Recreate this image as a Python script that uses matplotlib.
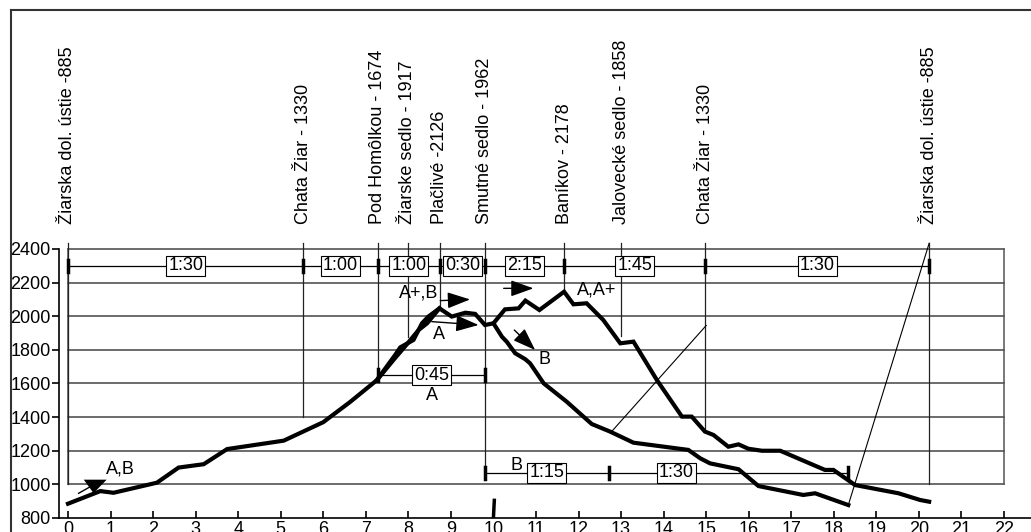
import matplotlib
matplotlib.use('Agg')
import matplotlib.pyplot as plt
from matplotlib.lines import Line2D

plt.rcParams['font.family'] = ['Liberation Sans', 'DejaVu Sans']

# waypoints along the route (km, name, lower end of the marker line)
stop_x = [0, 5.53, 7.28, 7.98, 8.74, 9.8, 11.66, 13.0, 14.98, 20.24]
stop_names = ['Žiarska dol. ústie -885', 'Chata Žiar - 1330', 'Pod Homôlkou - 1674',
              'Žiarske sedlo - 1917', 'Plačlivé -2126', 'Smutné sedlo - 1962',
              'Baníkov - 2178', 'Jalovecké sedlo - 1858', 'Chata Žiar - 1330',
              'Žiarska dol. ústie -885']
stop_low = [1000, 1400, 1630, 1875, 2047, 1030, 2146, 1885, 1310, 1000]

# main profile (A, A+)
main_x = [0, 0.76, 1.07, 2.09, 2.6, 3.19, 3.74, 5.07, 6.0, 6.63, 7.26, 7.65, 7.97,
          8.24, 8.44, 8.73, 9.02, 9.34, 9.57, 9.8, 10.0, 10.27, 10.59, 10.75, 11.08,
          11.66, 11.88, 12.19, 12.58, 12.98, 13.29, 13.84, 14.43, 14.66, 14.97, 15.17,
          15.52, 15.76, 15.99, 16.31, 16.74, 17.79, 17.99, 18.5, 19.52, 20.03, 20.24]
main_y = [885, 960, 950, 1010, 1100, 1120, 1210, 1260, 1370, 1490, 1620, 1740, 1835,
          1918, 1958, 2047, 1998, 2021, 2014, 1948, 1958, 2041, 2047, 2093, 2037,
          2146, 2071, 2077, 1978, 1839, 1849, 1621, 1403, 1403, 1314, 1294,
          1224, 1238, 1212, 1200, 1200, 1086, 1086, 996, 947, 907, 897]

# second climb variant between Pod Homôlkou and Plačlivé
alt_x = [7.26, 7.69, 7.81, 8.12, 8.32, 8.47, 8.73]
alt_y = [1621, 1770, 1815, 1859, 1958, 1998, 2047]

# descent B from Smutné sedlo
b_x = [10.0, 10.2, 10.31, 10.51, 10.75, 10.86, 11.18, 11.72, 12.31, 12.74, 13.29,
       14.58, 14.86, 15.09, 15.76, 16.23, 17.28, 17.56, 18.34]
b_y = [1958, 1878, 1849, 1780, 1744, 1720, 1601, 1492, 1359, 1314, 1248,
       1205, 1155, 1125, 1090, 990, 937, 947, 877]

# thin leader lines
lead1 = ([12.78, 15.0], [1315, 1945])
lead2 = ([18.34, 20.24], [877, 2434])

# start arrow (A,B): tail and skewed head
start_tail = ([0.25, 0.55], [947, 990])
start_head_x = [0.37, 0.91, 0.60]
start_head_y = [1028, 1028, 948]

# walking times
top_bounds = [0, 5.53, 7.28, 8.74, 9.8, 11.66, 14.98, 20.24]
top_times = ['1:30', '1:00', '1:00', '0:30', '2:15', '1:45', '1:30']
mid_bounds = [7.28, 9.8]
mid_times = ['0:45']
low_bounds = [9.8, 12.71, 18.34]
low_times = ['1:15', '1:30']
low_label_x = [11.25, 14.3]

fs = 13
fig = plt.figure(figsize=(10.31, 5.32), dpi=100)
ax = fig.add_axes([59 / 1031, 14 / 532, 972 / 1031, 518 / 532])
ax.set_xlim(-0.2115, 22.634)
ax.set_ylim(800, 3881)

for s in ['top', 'right']:
    ax.spines[s].set_visible(False)
ax.spines['left'].set_bounds(800, 2400)
ax.spines['left'].set_linewidth(1.2)
ax.spines['bottom'].set_linewidth(1.2)
ax.set_xticks(range(0, 23))
ax.set_yticks(range(800, 2401, 200))
ax.tick_params(axis='x', direction='in', length=5, pad=2, labelsize=fs, width=1.2)
ax.tick_params(axis='y', direction='out', length=5, pad=1, labelsize=fs, width=1.2)

# grid box
for yv in range(1000, 2401, 200):
    ax.plot([0, 22], [yv, yv], color='#444444', lw=1.1, zorder=1)
ax.plot([0, 0], [1000, 2400], color='#555555', lw=1.1, zorder=1)
ax.plot([22, 22], [1000, 2400], color='#555555', lw=1.1, zorder=1)

# waypoint markers
for x, name, low in zip(stop_x, stop_names, stop_low):
    ax.plot([x, x], [low, 2435], color='#222222', lw=0.9, zorder=2)
    ax.text(x, 2549, name, rotation=90, ha='center', va='bottom', fontsize=fs)

# profiles
ax.plot(main_x, main_y, color='black', lw=3, solid_joinstyle='miter', zorder=4)
ax.plot(alt_x, alt_y, color='black', lw=3, solid_joinstyle='miter', zorder=4)
ax.plot(b_x, b_y, color='black', lw=3, solid_joinstyle='miter', zorder=4)
ax.plot(*lead1, color='black', lw=0.8, zorder=3)
ax.plot(*lead2, color='black', lw=0.8, zorder=3)

# mark at 10 km
ax.plot([10.0, 10.02], [806, 905], color='black', lw=2.5, zorder=4)

box = dict(boxstyle='square,pad=0.1', fc='white', ec='black', lw=0.8)


def time_bar(bounds, times, y, label_x=None):
    ax.plot([bounds[0], bounds[-1]], [y, y], color='black', lw=0.9, zorder=3)
    for b in bounds:
        ax.plot([b, b], [y - 36, y + 36], color='black', lw=2.5, zorder=3)
    if label_x is None:
        label_x = [(a + b) / 2 for a, b in zip(bounds[:-1], bounds[1:])]
    for lx, t in zip(label_x, times):
        ax.text(lx, y, t, ha='center', va='center', fontsize=fs, bbox=box, zorder=5)


time_bar(top_bounds, top_times, 2300)
time_bar(mid_bounds, mid_times, 1650)
time_bar(low_bounds, low_times, 1068, low_label_x)

# route labels
ax.text(8.55, 1527, 'A', ha='center', va='center', fontsize=fs)
ax.text(10.53, 1112, 'B', ha='center', va='center', fontsize=fs)
ax.text(1.23, 1092, 'A,B', ha='center', va='center', fontsize=fs)
ax.text(8.24, 2137, 'A+,B', ha='center', va='center', fontsize=fs)
ax.text(8.72, 1889, 'A', ha='center', va='center', fontsize=fs)
ax.text(12.43, 2156, 'A,A+', ha='center', va='center', fontsize=fs)
ax.text(11.21, 1744, 'B', ha='center', va='center', fontsize=fs)

ax.plot(*start_tail, color='black', lw=1, zorder=5)
ax.fill(start_head_x, start_head_y, color='black', lw=0, zorder=5)

arrow = dict(arrowstyle='-|>,head_length=0.7,head_width=0.25', color='black',
             lw=1, mutation_scale=20, shrinkA=0, shrinkB=0)
ax.annotate('', xy=(9.45, 2100), xytext=(8.75, 2093), arrowprops=arrow, zorder=5)
ax.annotate('', xy=(9.65, 1948), xytext=(8.55, 1968), arrowprops=arrow, zorder=5)
ax.annotate('', xy=(10.94, 2166), xytext=(10.24, 2166), arrowprops=arrow, zorder=5)
ax.annotate('', xy=(10.98, 1799), xytext=(10.49, 1918), arrowprops=arrow, zorder=5)

# outer frame
fig.add_artist(Line2D([11 / 1031, 11 / 1031], [0, 1 - 10 / 532], transform=fig.transFigure,
                      color='#333333', lw=1.5))
fig.add_artist(Line2D([11 / 1031, 1], [1 - 10 / 532, 1 - 10 / 532], transform=fig.transFigure,
                      color='#333333', lw=1.5))

fig.savefig('out.png', dpi=100)
